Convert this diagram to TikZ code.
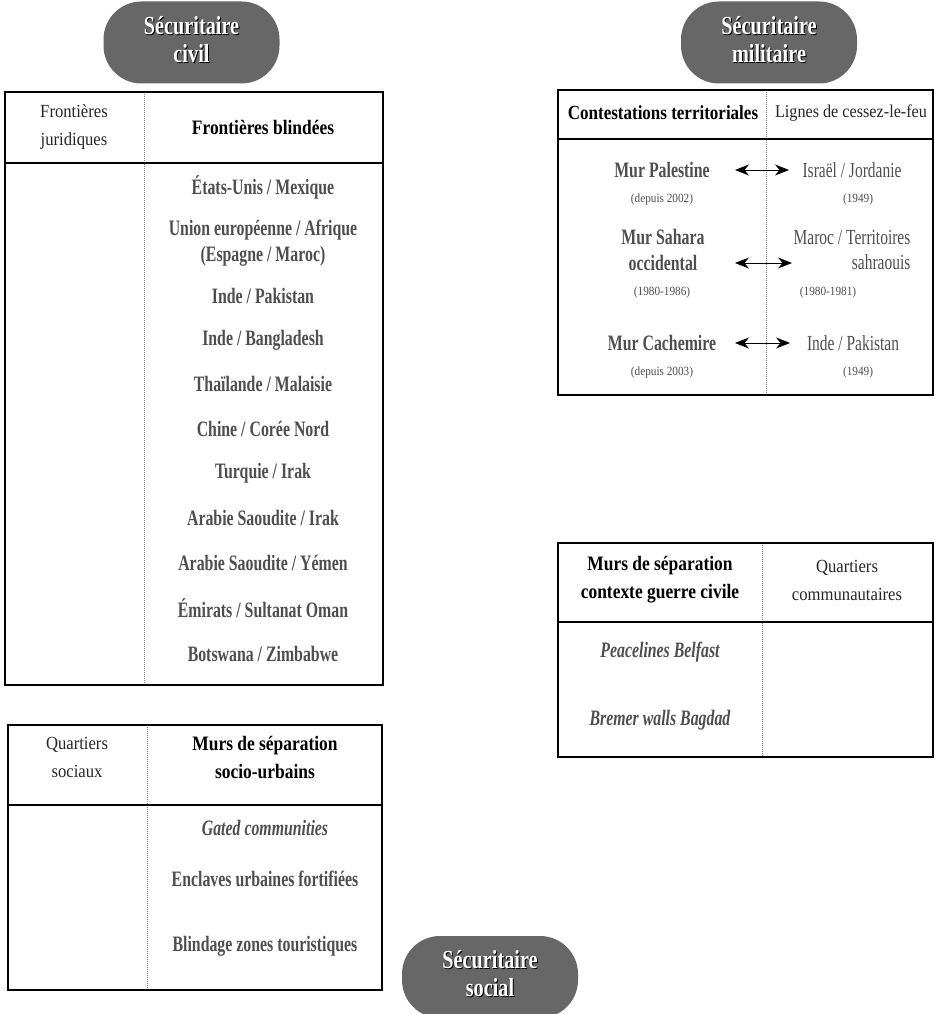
\documentclass[tikz,border=0pt]{standalone}
\usepackage{fontspec}
\setmainfont{Liberation Serif}
\newfontfamily\cond[FakeStretch=0.72]{Liberation Serif}
\newfontfamily\condh[FakeStretch=0.85]{Liberation Serif}
\newfontfamily\condr[FakeStretch=0.9]{Liberation Serif}
\newfontfamily\condp[FakeStretch=0.78]{Liberation Serif}
\usetikzlibrary{arrows.meta}
\definecolor{txtgray}{RGB}{78,78,78}
\definecolor{pillgray}{RGB}{103,103,103}
\tikzset{
  pill/.style={fill=pillgray, draw=none, rounded corners=38pt, minimum width=176pt, minimum height=82pt, inner sep=0},
  pilltxt/.style={font=\condp\bfseries\fontsize{26}{28}\selectfont, text=white, align=center, inner sep=0},
  pillshadow/.style={font=\condp\bfseries\fontsize{26}{28}\selectfont, text=black, align=center, inner sep=0},
  frame/.style={line width=2.8pt, draw=black},
  headline/.style={line width=2.8pt},
  divider/.style={line width=0.7pt, draw=gray, dash pattern=on 1pt off 1pt},
  itemb/.style={font=\cond\bfseries\fontsize{22}{26}\selectfont, text=txtgray, align=center, inner sep=0},
  itemi/.style={font=\cond\bfseries\itshape\fontsize{22}{26}\selectfont, text=txtgray, align=center, inner sep=0},
  itemr/.style={font=\cond\fontsize{21.5}{25}\selectfont, text=txtgray, inner sep=0},
  hdrb/.style={font=\condh\bfseries\fontsize{20.5}{28}\selectfont, text=black, align=center, inner sep=0},
  hdrr/.style={font=\condr\fontsize{18.5}{28}\selectfont, text=black!85, align=center, inner sep=0},
  smalltxt/.style={font=\condr\fontsize{12.5}{15}\selectfont, text=txtgray, inner sep=0},
  dblarrow/.style={{Stealth[length=14pt,width=11pt]}-{Stealth[length=14pt,width=11pt]}, line width=0.9pt}
}
\begin{document}
\begin{tikzpicture}[x=1pt,y=-1pt]
\useasboundingbox (0,0) rectangle (935,1014);

% ---------- pills ----------
\node[pill] (pcivil) at (191.5,42.5) {};
\node[pillshadow] (pcivils) at (192.5,40.5) {Sécuritaire\\civil};
\node[pilltxt] (pcivilt) at (191.5,39.5) {Sécuritaire\\civil};

\node[pill] (pmil) at (769,42.5) {};
\node[pillshadow] (pmils) at (770,40.5) {Sécuritaire\\militaire};
\node[pilltxt] (pmilt) at (769,39.5) {Sécuritaire\\militaire};

\node[pill] (psoc) at (490,977) {};
\node[pillshadow] (psocs) at (491,975) {Sécuritaire\\social};
\node[pilltxt] (psoct) at (490,974) {Sécuritaire\\social};

% ---------- left table 1 ----------
\draw[divider] (144,92) -- (144,685);
\draw[headline] (5,163) -- (383,163);
\draw[frame] (5,92) rectangle (383,685);
\node[hdrr] (h1a) at (74,127) {Frontières\\juridiques};
\node[hdrb] (h1b) at (263,127) {Frontières blindées};
\node[itemb] (l1) at (263,187) {États-Unis / Mexique};
\node[itemb] (l2) at (263,243) {Union européenne / Afrique\\(Espagne / Maroc)};
\node[itemb] (l3) at (263,296) {Inde / Pakistan};
\node[itemb] (l4) at (263,340) {Inde / Bangladesh};
\node[itemb] (l5) at (263,384) {Thaïlande / Malaisie};
\node[itemb] (l6) at (263,429) {Chine / Corée Nord};
\node[itemb] (l7) at (263,473) {Turquie / Irak};
\node[itemb] (l8) at (263,518) {Arabie Saoudite / Irak};
\node[itemb] (l9) at (263,563) {Arabie Saoudite / Yémen};
\node[itemb] (l10) at (263,608) {Émirats / Sultanat Oman};
\node[itemb] (l11) at (263,654) {Botswana / Zimbabwe};

% ---------- right table 1 ----------
\draw[divider] (766,90) -- (766,395);
\draw[headline] (558,139) -- (933,139);
\draw[frame] (558,90) rectangle (933,395);
\node[hdrb, font=\condh\bfseries\fontsize{20}{28}\selectfont] (h2a) at (663,113) {Contestations territoriales};
\node[hdrr, font=\condr\fontsize{18}{28}\selectfont] (h2b) at (851,113) {Lignes de cessez-le-feu};

\node[itemb] (m1) at (662,170) {Mur Palestine};
\node[smalltxt] (m1d) at (662,199) {(depuis 2002)};
\node[itemr] (n1) at (852,170) {Israël / Jordanie};
\node[smalltxt] (n1d) at (858,199) {(1949)};

\node[itemb] (m2) at (663,250) {Mur Sahara\\occidental};
\node[smalltxt] (m2d) at (662,292) {(1980-1986)};
\node[itemr, align=right] (n2) at (852,250) {Maroc / Territoires\\sahraouis};
\node[smalltxt] (n2d) at (828,292) {(1980-1981)};

\node[itemb] (m3) at (662,343) {Mur Cachemire};
\node[smalltxt] (m3d) at (662,372) {(depuis 2003)};
\node[itemr] (n3) at (853,343) {Inde / Pakistan};
\node[smalltxt] (n3d) at (858,372) {(1949)};

\coordinate (a1l) at (735,170); \coordinate (a1r) at (789,170);
\coordinate (a2l) at (735,263); \coordinate (a2r) at (792,263);
\coordinate (a3l) at (735,343); \coordinate (a3r) at (790,343);
\draw[dblarrow] (a1l) -- (a1r);
\draw[dblarrow] (a2l) -- (a2r);
\draw[dblarrow] (a3l) -- (a3r);

% ---------- right table 2 ----------
\draw[divider] (762,543) -- (762,757);
\draw[headline] (558,622) -- (933,622);
\draw[frame] (558,543) rectangle (933,757);
\node[hdrb] (h3a) at (660,580) {Murs de séparation\\contexte guerre civile};
\node[hdrr] (h3b) at (847,580) {Quartiers\\communautaires};
\node[itemi] (c1) at (660,652) {Peacelines Belfast};
\node[itemi] (c2) at (660,720) {Bremer walls Bagdad};

% ---------- left table 2 ----------
\draw[divider] (147,725) -- (147,990);
\draw[headline] (8,805) -- (382,805);
\draw[frame] (8,725) rectangle (382,990);
\node[hdrr] (h4a) at (77,757) {Quartiers\\sociaux};
\node[hdrb] (h4b) at (265,757) {Murs de séparation\\socio-urbains};
\node[itemi] (s1) at (265,828) {Gated communities};
\node[itemb] (s2) at (265,879) {Enclaves urbaines fortifiées};
\node[itemb] (s3) at (265,946) {Blindage zones touristiques};
\end{tikzpicture}
\end{document}
